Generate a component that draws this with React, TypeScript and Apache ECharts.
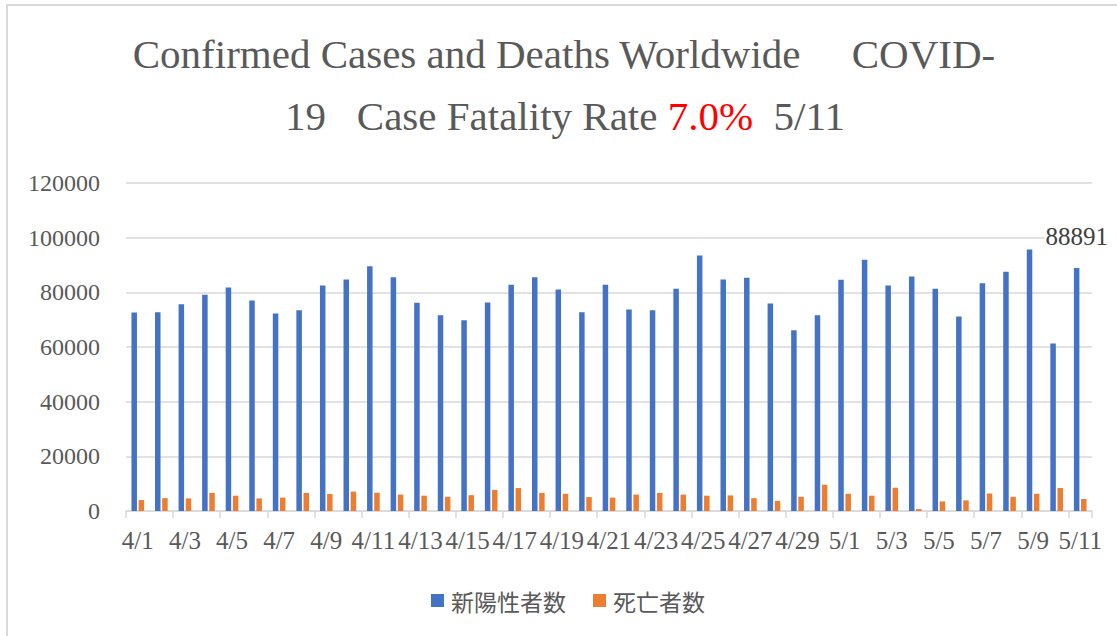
import React, { useEffect, useRef } from "react";
import * as echarts from "echarts";

const categories = [
  "4/1", "4/2", "4/3", "4/4", "4/5", "4/6", "4/7", "4/8", "4/9", "4/10",
  "4/11", "4/12", "4/13", "4/14", "4/15", "4/16", "4/17", "4/18", "4/19", "4/20",
  "4/21", "4/22", "4/23", "4/24", "4/25", "4/26", "4/27", "4/28", "4/29", "4/30",
  "5/1", "5/2", "5/3", "5/4", "5/5", "5/6", "5/7", "5/8", "5/9", "5/10", "5/11",
];

const newCases = [
  72600, 72700, 75600, 79100, 81800, 77000, 72300, 73400, 82500, 84700,
  89500, 85500, 76200, 71600, 69800, 76300, 82800, 85500, 81000, 72700,
  82800, 73700, 73400, 81300, 93500, 84700, 85300, 75900, 66100, 71600,
  84600, 91900, 82500, 85800, 81300, 71200, 83300, 87500, 95700, 61300, 88891,
];

const deaths = [
  4000, 4700, 4600, 6600, 5600, 4600, 4900, 6600, 6200, 7100,
  6700, 6000, 5600, 5200, 5800, 7700, 8400, 6600, 6300, 5100,
  4900, 6000, 6600, 6000, 5600, 5700, 4700, 3700, 5200, 9600,
  6300, 5600, 8500, 700, 3500, 3900, 6400, 5200, 6300, 8400, 4400,
];

const seriesNames = ["新陽性者数", "死亡者数"];
const titleLine1 = "Confirmed Cases and Deaths Worldwide     COVID-";
const titleLine2Parts = ["19   Case Fatality Rate ", "7.0%", "  5/11"];

const SERIF = "'Liberation Serif', 'Times New Roman', serif";
const GRAY = "#595959";

export default function App() {
  const ref = useRef<HTMLDivElement>(null);

  useEffect(() => {
    if (!ref.current) return;
    const chart = echarts.init(ref.current, null, { renderer: "svg" });
    const lastIdx = newCases.length - 1;
    const caseData = newCases.map((v, i) =>
      i === lastIdx
        ? {
            value: v,
            label: {
              show: true,
              position: "top",
              offset: [0, -14],
              color: "#404040",
              fontFamily: SERIF,
              fontSize: 25,
              backgroundColor: "#ffffff",
              padding: [0, 1],
            },
          }
        : v
    );

    chart.setOption({
      animation: false,
      backgroundColor: "#ffffff",
      graphic: [
        {
          type: "rect",
          shape: { x: 7, y: 5, width: 1200, height: 700 },
          style: { fill: "none", stroke: "#D9D9D9", lineWidth: 2 },
          silent: true,
        },
        {
          type: "text",
          x: 564,
          y: 54,
          style: {
            text: titleLine1,
            fill: GRAY,
            font: `41px ${SERIF}`,
            textAlign: "center",
            textVerticalAlign: "middle",
          },
        },
        {
          type: "text",
          x: 565,
          y: 116,
          style: {
            text: `${titleLine2Parts[0]}{r|${titleLine2Parts[1]}}${titleLine2Parts[2]}`,
            fill: GRAY,
            font: `41px ${SERIF}`,
            textAlign: "center",
            textVerticalAlign: "middle",
            rich: {
              r: { fill: "#FF0000", font: `41px ${SERIF}` },
            },
          },
        },
      ],
      legend: {
        left: 426,
        top: 584,
        itemWidth: 13,
        itemHeight: 13,
        itemGap: 27,
        icon: "rect",
        textStyle: {
          color: GRAY,
          fontSize: 23,
          fontFamily: "'Noto Sans CJK JP', sans-serif",
          padding: [0, 0, 0, 2],
        },
        data: seriesNames,
      },
      grid: {
        left: 126,
        right: 25,
        top: 183,
        bottom: 125,
        containLabel: false,
      },
      xAxis: {
        type: "category",
        data: categories,
        axisLine: { lineStyle: { color: "#D9D9D9", width: 1.5 } },
        axisTick: {
          show: true,
          interval: 1,
          length: 7,
          lineStyle: { color: "#D9D9D9", width: 1.5 },
        },
        axisLabel: {
          interval: 1,
          color: GRAY,
          fontFamily: SERIF,
          fontSize: 25,
          margin: 17,
        },
      },
      yAxis: {
        type: "value",
        min: 0,
        max: 120000,
        interval: 20000,
        axisLine: { show: false },
        axisTick: { show: false },
        splitLine: { lineStyle: { color: "#D9D9D9", width: 1.5 } },
        axisLabel: {
          color: GRAY,
          fontFamily: SERIF,
          fontSize: 24,
          margin: 26,
          formatter: (v: number) => String(v),
        },
      },
      series: [
        {
          name: seriesNames[0],
          type: "bar",
          data: caseData,
          barWidth: 5.5,
          barGap: "30%",
          itemStyle: { color: "#4472C4" },
        },
        {
          name: seriesNames[1],
          type: "bar",
          data: deaths,
          barWidth: 5.5,
          barGap: "30%",
          itemStyle: { color: "#ED7D31" },
        },
      ],
    });
    return () => chart.dispose();
  }, []);

  return (
    <div
      ref={ref}
      style={{ position: "absolute", left: 0, top: 0, width: 1117, height: 636 }}
    />
  );
}
